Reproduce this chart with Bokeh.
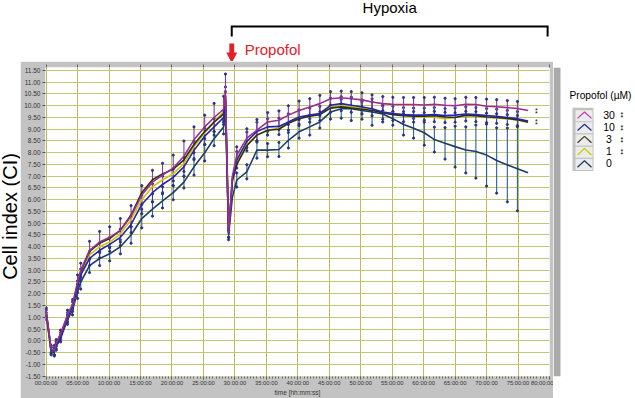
from math import pi
from bokeh.plotting import figure
from bokeh.layouts import column, row
from bokeh.models import Range1d, FixedTicker, PrintfTickFormatter, LinearAxis
from bokeh.core.properties import value
from bokeh.embed import file_html
from bokeh.resources import INLINE

# ---------------- data (hours, cell index) ----------------
hours = [0, 0.8, 1.3, 1.6, 2.3, 3.4, 4.2, 5.0, 5.5,
         6.9, 8.5, 10.1, 11.8, 13.5, 15.2, 16.9, 18.5, 20.2, 21.9, 23.5, 25.2, 26.7, 28.2,
         28.5, 29.0, 29.6,
         30.3, 31.9, 33.5, 35.2, 37.0, 38.5, 40.2, 41.9, 43.5, 45.2, 46.9, 48.5, 50.2, 51.8,
         53.5, 55.1, 56.8, 58.4, 60.1, 61.7, 63.4, 65.0, 66.7, 68.3, 70.0, 71.6, 73.3, 74.9, 76.6]

ci_30 = [1.3, -0.35, -0.4, -0.1, 0.3, 1.1, 1.55, 2.5, 3.0,
         3.85, 4.2, 4.4, 4.7, 5.3, 6.2, 6.75, 7.05, 7.35, 7.85, 8.55, 9.1, 9.5, 9.85,
         10.6, 4.6, 7.0,
         7.9, 8.62, 8.96, 9.31, 9.38, 9.6, 9.8, 9.95, 10.09, 10.3,
         10.34, 10.3, 10.25, 10.16, 10.09, 10.06, 10.05, 10.05, 10.03, 10.06,
         10.02, 10.0, 10.06, 10.05, 9.98, 9.96, 9.92, 9.88, 9.8]
ci_10 = [1.2, -0.4, -0.45, -0.2, 0.2, 1.0, 1.45, 2.3, 2.8,
         3.5, 3.85, 4.1, 4.4, 4.95, 5.8, 6.3, 6.65, 6.95, 7.4, 8.1, 8.7, 9.1, 9.5,
         10.3, 4.55, 6.9,
         7.7, 8.48, 8.9, 9.1, 9.12, 9.31, 9.52, 9.6, 9.67, 10.02,
         10.09, 10.02, 9.95, 9.87, 9.73, 9.67, 9.62, 9.6, 9.6, 9.62,
         9.58, 9.6, 9.65, 9.62, 9.58, 9.55, 9.5, 9.45, 9.35]
ci_3 = [1.25, -0.38, -0.42, -0.12, 0.28, 1.05, 1.5, 2.45, 2.95,
        3.8, 4.15, 4.35, 4.7, 5.35, 6.3, 6.85, 7.1, 7.3, 7.7, 8.35, 8.9, 9.3, 9.65,
        10.4, 4.6, 6.8,
        7.5, 8.3, 8.75, 8.96, 9.0, 9.25, 9.45, 9.55, 9.62, 9.9,
        9.95, 9.9, 9.85, 9.8, 9.7, 9.62, 9.58, 9.55, 9.55, 9.58,
        9.52, 9.5, 9.6, 9.58, 9.52, 9.5, 9.46, 9.4, 9.3]
ci_1 = [1.2, -0.4, -0.45, -0.15, 0.25, 1.0, 1.45, 2.35, 2.85,
        3.65, 4.0, 4.2, 4.55, 5.15, 6.0, 6.55, 6.85, 7.1, 7.55, 8.25, 8.85, 9.3, 9.75,
        10.4, 4.62, 6.85,
        7.6, 8.35, 8.75, 8.96, 9.05, 9.28, 9.5, 9.58, 9.65, 9.94,
        10.0, 9.95, 9.9, 9.82, 9.72, 9.67, 9.6, 9.55, 9.52, 9.5,
        9.45, 9.5, 9.58, 9.55, 9.5, 9.48, 9.44, 9.4, 9.32]
ci_0 = [1.1, -0.45, -0.5, -0.25, 0.1, 0.9, 1.3, 2.1, 2.5,
        3.2, 3.5, 3.7, 4.0, 4.5, 5.2, 5.6, 5.95, 6.3, 6.75, 7.4, 8.0, 8.6, 9.1,
        10.0, 4.5, 6.1,
        6.84, 7.19, 8.11, 8.11, 8.14, 8.53, 8.89, 9.1, 9.31, 9.73,
        9.87, 9.87, 9.8, 9.73, 9.65, 9.45, 9.2, 9.04, 8.85, 8.56,
        8.4, 8.26, 8.12, 8.05, 7.9, 7.67, 7.48, 7.32, 7.15]

sd_30 = [0.1, 0.15, 0.2, 0.15, 0.15, 0.2, 0.2, 0.3, 0.3,
         0.38, 0.45, 0.45, 0.5, 0.45, 0.4, 0.5, 0.5, 0.55, 0.65, 0.55, 0.5, 0.6, 0.55,
         0.75, 0.2, 0.0,
         0.35, 0.4, 0.45, 0.4, 0.4, 0.4, 0.4, 0.35, 0.35, 0.3,
         0.28, 0.3, 0.3, 0.3, 0.3, 0.3, 0.3, 0.3, 0.32, 0.3,
         0.3, 0.3, 0.3, 0.3, 0.3, 0.3, 0.3, 0.3, 0.0]
sd_10 = [0.15, 0.15, 0.15, 0.15, 0.15, 0.2, 0.2, 0.25, 0.25,
         0.3, 0.32, 0.3, 0.35, 0.35, 0.4, 0.38, 0.35, 0.35, 0.4, 0.4, 0.35, 0.35, 0.3,
         0.5, 0.15, 0.0,
         0.35, 0.4, 0.4, 0.35, 0.35, 0.35, 0.3, 0.3, 0.3, 0.3,
         0.3, 0.3, 0.3, 0.3, 0.3, 0.3, 0.3, 0.3, 0.3, 0.3,
         0.3, 0.3, 0.3, 0.3, 0.3, 0.3, 0.3, 0.3, 0.0]
sd_0 = [0.2, 0.15, 0.15, 0.15, 0.15, 0.2, 0.2, 0.3, 0.3,
        0.3, 0.3, 0.3, 0.3, 0.35, 0.4, 0.3, 0.3, 0.3, 0.25, 0.35, 0.35, 0.3, 0.3,
        0.6, 0.2, 0.0,
        0.3, 0.3, 0.34, 0.28, 0.3, 0.33, 0.27, 0.35, 0.26, 0.3,
        0.4, 0.5, 0.37, 0.56, 0.34, 0.28, 0.45, 0.42, 0.53, 0.53,
        0.67, 0.87, 0.98, 1.13, 1.32, 1.39, 1.57, 1.79, 0.0]

for arr in (ci_30, ci_10, ci_3, ci_1, ci_0, sd_30, sd_10, sd_0):
    assert len(arr) == len(hours), len(arr)

propofol_h = 29.5            # time of drug addition (arrow)
hypoxia_h = [29.5, 79.7]     # span of the hypoxia bracket
legend_names = ["30", "10", "3", "1", "0"]
legend_stars = [True, True, True, True, False]
x_ticks = [0, 5, 10, 15, 20, 25, 30, 35, 40, 45, 50, 55, 60, 65, 70, 75, 80]
x_tick_labels = ["00:00:00", "05:00:00", "10:00:00", "15:00:00", "20:00:00", "25:00:00",
                 "30:00:00", "35:00:00", "40:00:00", "45:00:00", "50:00:00", "55:00:00",
                 "60:00:00", "65:00:00", "70:00:00", "75:00:00", "80:00:00"]
y_ticks = [-1.5, -1.0, -0.5, 0.0, 0.5, 1.0, 1.5, 2.0, 2.5, 3.0, 3.5, 4.0, 4.5, 5.0,
           5.5, 6.0, 6.5, 7.0, 7.5, 8.0, 8.5, 9.0, 9.5, 10.0, 10.5, 11.0, 11.5]
x_minor = [i * 0.5 for i in range(161)]

# ---------------- styles ----------------
FONT = "Liberation Sans"
c30, c10, c3, c1, c0 = "#9b2d8f", "#2424b4", "#2e2e14", "#c8c800", "#1d3d66"
leg_cols = ["#c040c0", "#303090", "#404020", "#c8d000", "#204060"]
bar30, bar10, bar0 = "#8a3aa8", "#3038c0", "#2d5f9e"
PANEL = "#c3c3c3"
RED = "#e3202a"
BASE_SHIFT = 0.48            # measured offset of the rendered baseline (in em)

# page geometry (canvas starts at page 0,0)
PW, PH = 635, 398
PANEL_L, PANEL_T, PANEL_R = 20, 61, 553
FL, FR, FT, FB = 45, 549, 67, 378        # frame edges of the main plot
X0, X1 = -0.1, 80.0
Y0, Y1 = -1.521, 11.627
HPX = (X1 - X0) / (FR - FL)              # hours per pixel


def hx(px):
    return X0 + (px - FL) * HPX


def deco(w, h, xr, yr):
    f = figure(width=w, height=h, x_range=xr, y_range=yr, output_backend="svg",
               toolbar_location=None, min_border=0,
               x_axis_location=None, y_axis_location=None)
    f.outline_line_color = None
    f.grid.visible = False
    f.background_fill_color = "white"
    f.border_fill_color = "white"
    return f


def txt(f, x, base_page_y, s, size, color="black", align="left"):
    """text whose alphabetic baseline sits at page y = base_page_y (y coordinate = -page y)"""
    f.text(x=[x], y=[-(base_page_y - BASE_SHIFT * size)], text=[s],
           text_font=value(FONT), text_font_size=f"{size}px",
           text_color=color, text_align=align, text_baseline="alphabetic")


# ---------------- main plot ----------------
main = figure(width=PANEL_R - PANEL_L, height=PH - PANEL_T,
              x_range=Range1d(X0, X1), y_range=Range1d(Y0, Y1),
              output_backend="svg", toolbar_location=None,
              min_border_left=FL - PANEL_L, min_border_right=PANEL_R - FR,
              min_border_top=FT - PANEL_T, min_border_bottom=PH - FB)
main.outline_line_color = None
main.background_fill_color = "white"
main.border_fill_color = PANEL

xa = main.xaxis[0]
xa.ticker = FixedTicker(ticks=x_ticks, minor_ticks=x_minor)
xa.major_label_overrides = dict(zip(x_ticks, x_tick_labels))
xa.major_label_text_font = FONT
xa.major_label_text_font_size = "5.8px"
xa.major_label_text_color = "#333333"
xa.major_label_standoff = 0
xa.axis_line_color = None
xa.major_tick_out = 3
xa.major_tick_in = 0
xa.minor_tick_out = 2
xa.minor_tick_in = 0
xa.major_tick_line_color = "#555555"
xa.minor_tick_line_color = "#6a6a6a"
xa.axis_label = "time [hh:mm:ss]"
xa.axis_label_text_font = FONT
xa.axis_label_text_font_size = "6.5px"
xa.axis_label_text_font_style = "normal"
xa.axis_label_text_color = "#333333"
xa.axis_label_standoff = 0

ya = main.yaxis[0]
ya.ticker = FixedTicker(ticks=y_ticks, minor_ticks=[])
ya.formatter = PrintfTickFormatter(format="%.2f")
ya.major_label_text_font = FONT
ya.major_label_text_font_size = "6.5px"
ya.major_label_text_color = "#333333"
ya.major_label_standoff = 2
ya.axis_line_color = None
ya.major_tick_out = 3
ya.major_tick_in = 0
ya.major_tick_line_color = "#555555"

top_ax = LinearAxis(ticker=FixedTicker(ticks=x_ticks, minor_ticks=[]),
                    major_label_text_font_size="1px", major_label_text_alpha=0,
                    major_label_standoff=0,
                    axis_line_color=None, major_tick_out=3, major_tick_in=0,
                    minor_tick_out=0, major_tick_line_color="#666666")
main.add_layout(top_ax, "above")

main.xgrid[0].ticker = FixedTicker(ticks=x_ticks, minor_ticks=[])
main.ygrid[0].ticker = FixedTicker(ticks=y_ticks, minor_ticks=[])
main.xgrid.grid_line_color = "#bcbc5c"
main.ygrid.grid_line_color = "#c6c672"

# error bars
for vals, sds, col in [(ci_0, sd_0, bar0), (ci_10, sd_10, bar10), (ci_30, sd_30, bar30)]:
    ts = [t for t, s in zip(hours, sds) if s > 0]
    lo = [v - s for v, s in zip(vals, sds) if s > 0]
    hi = [v + s for v, s in zip(vals, sds) if s > 0]
    main.segment(ts, lo, ts, hi, line_color=col, line_width=1.1)
    main.scatter(ts + ts, lo + hi, size=2.2, color="#26347e")

# series
for vals, col in [(ci_0, c0), (ci_1, c1), (ci_3, c3), (ci_10, c10), (ci_30, c30)]:
    main.line(hours, vals, line_color=col, line_width=1.6)

# significance marks at line ends
sx, sy = [], []
for v in (ci_30[-1], ci_10[-1]):
    sx += [hours[-1] + 1.3, hours[-1] + 1.3]
    sy += [v + 0.0, v - 0.15]
main.text(x=sx, y=sy, text=["*"] * len(sx), text_font=value(FONT), text_font_size="7px",
          text_color="#111111", text_align="center", text_baseline="middle")

# ---------------- top strip: Hypoxia bracket and Propofol arrow ----------------
top = deco(PW, PANEL_T, Range1d(hx(0), hx(PW)), Range1d(-PANEL_T, 0))
txt(top, sum(hypoxia_h) / 2, 14, "Hypoxia", 15, align="center")
top.line(x=[hypoxia_h[0], hypoxia_h[0], hypoxia_h[1], hypoxia_h[1]],
         y=[-36, -26, -26, -36], line_color="black", line_width=2, line_join="miter")
top.quad(left=[propofol_h - 2.4 * HPX], right=[propofol_h + 2.4 * HPX],
         top=[-43], bottom=[-52.5], fill_color=RED, line_color=None)
top.patch(x=[propofol_h - 5.5 * HPX, propofol_h + 5.5 * HPX, propofol_h],
          y=[-52, -52, -62.5], fill_color=RED, line_color=None)
txt(top, propofol_h + 13 * HPX, 56.5, "Propofol", 15, color=RED)

# ---------------- left strip: y title (rotated) ----------------
left = deco(PANEL_L, PH - PANEL_T, Range1d(0, PANEL_L), Range1d(-PH, -PANEL_T))
left.text(x=[19.0 - BASE_SHIFT * 20], y=[-223.5], text=["Cell index (CI)"],
          text_font=value(FONT), text_font_size="20px", text_color="black",
          text_align="center", text_baseline="alphabetic", angle=pi / 2)

# ---------------- right strip: scroll bar edge and legend ----------------
right = deco(PW - PANEL_R, PH - PANEL_T, Range1d(PANEL_R, PW), Range1d(-PH, -PANEL_T))
right.quad(left=[553], right=[560], top=[-PANEL_T], bottom=[-PH],
           fill_color="#a9a9a9", line_color=None)
txt(right, 569, 96.5, "Propofol (\u00b5M)", 10.2)
rows = [113.5, 126.8, 140.1, 153.4, 166.7]
right.quad(left=[572], right=[593], top=[-105], bottom=[-174],
           fill_color="#c2c2c2", line_color=None)
for cy, name, col, star in zip(rows, legend_names, leg_cols, legend_stars):
    right.quad(left=[575], right=[592], top=[-(cy - 6)], bottom=[-(cy + 6)],
               fill_color="#ebebeb", line_color=None)
    right.line(x=[577, 584, 591], y=[-(cy + 3), -(cy - 4), -(cy + 3)],
               line_color=col, line_width=1.3)
    txt(right, 608.5, cy + 3.8, name, 10.5, align="center")
    if star:
        txt(right, 620, cy + 2.6, "*", 7)
        txt(right, 620, cy + 5.9, "*", 7)

layout = column(top, row(left, main, right))
open("out.html", "w").write(file_html(layout, INLINE))
